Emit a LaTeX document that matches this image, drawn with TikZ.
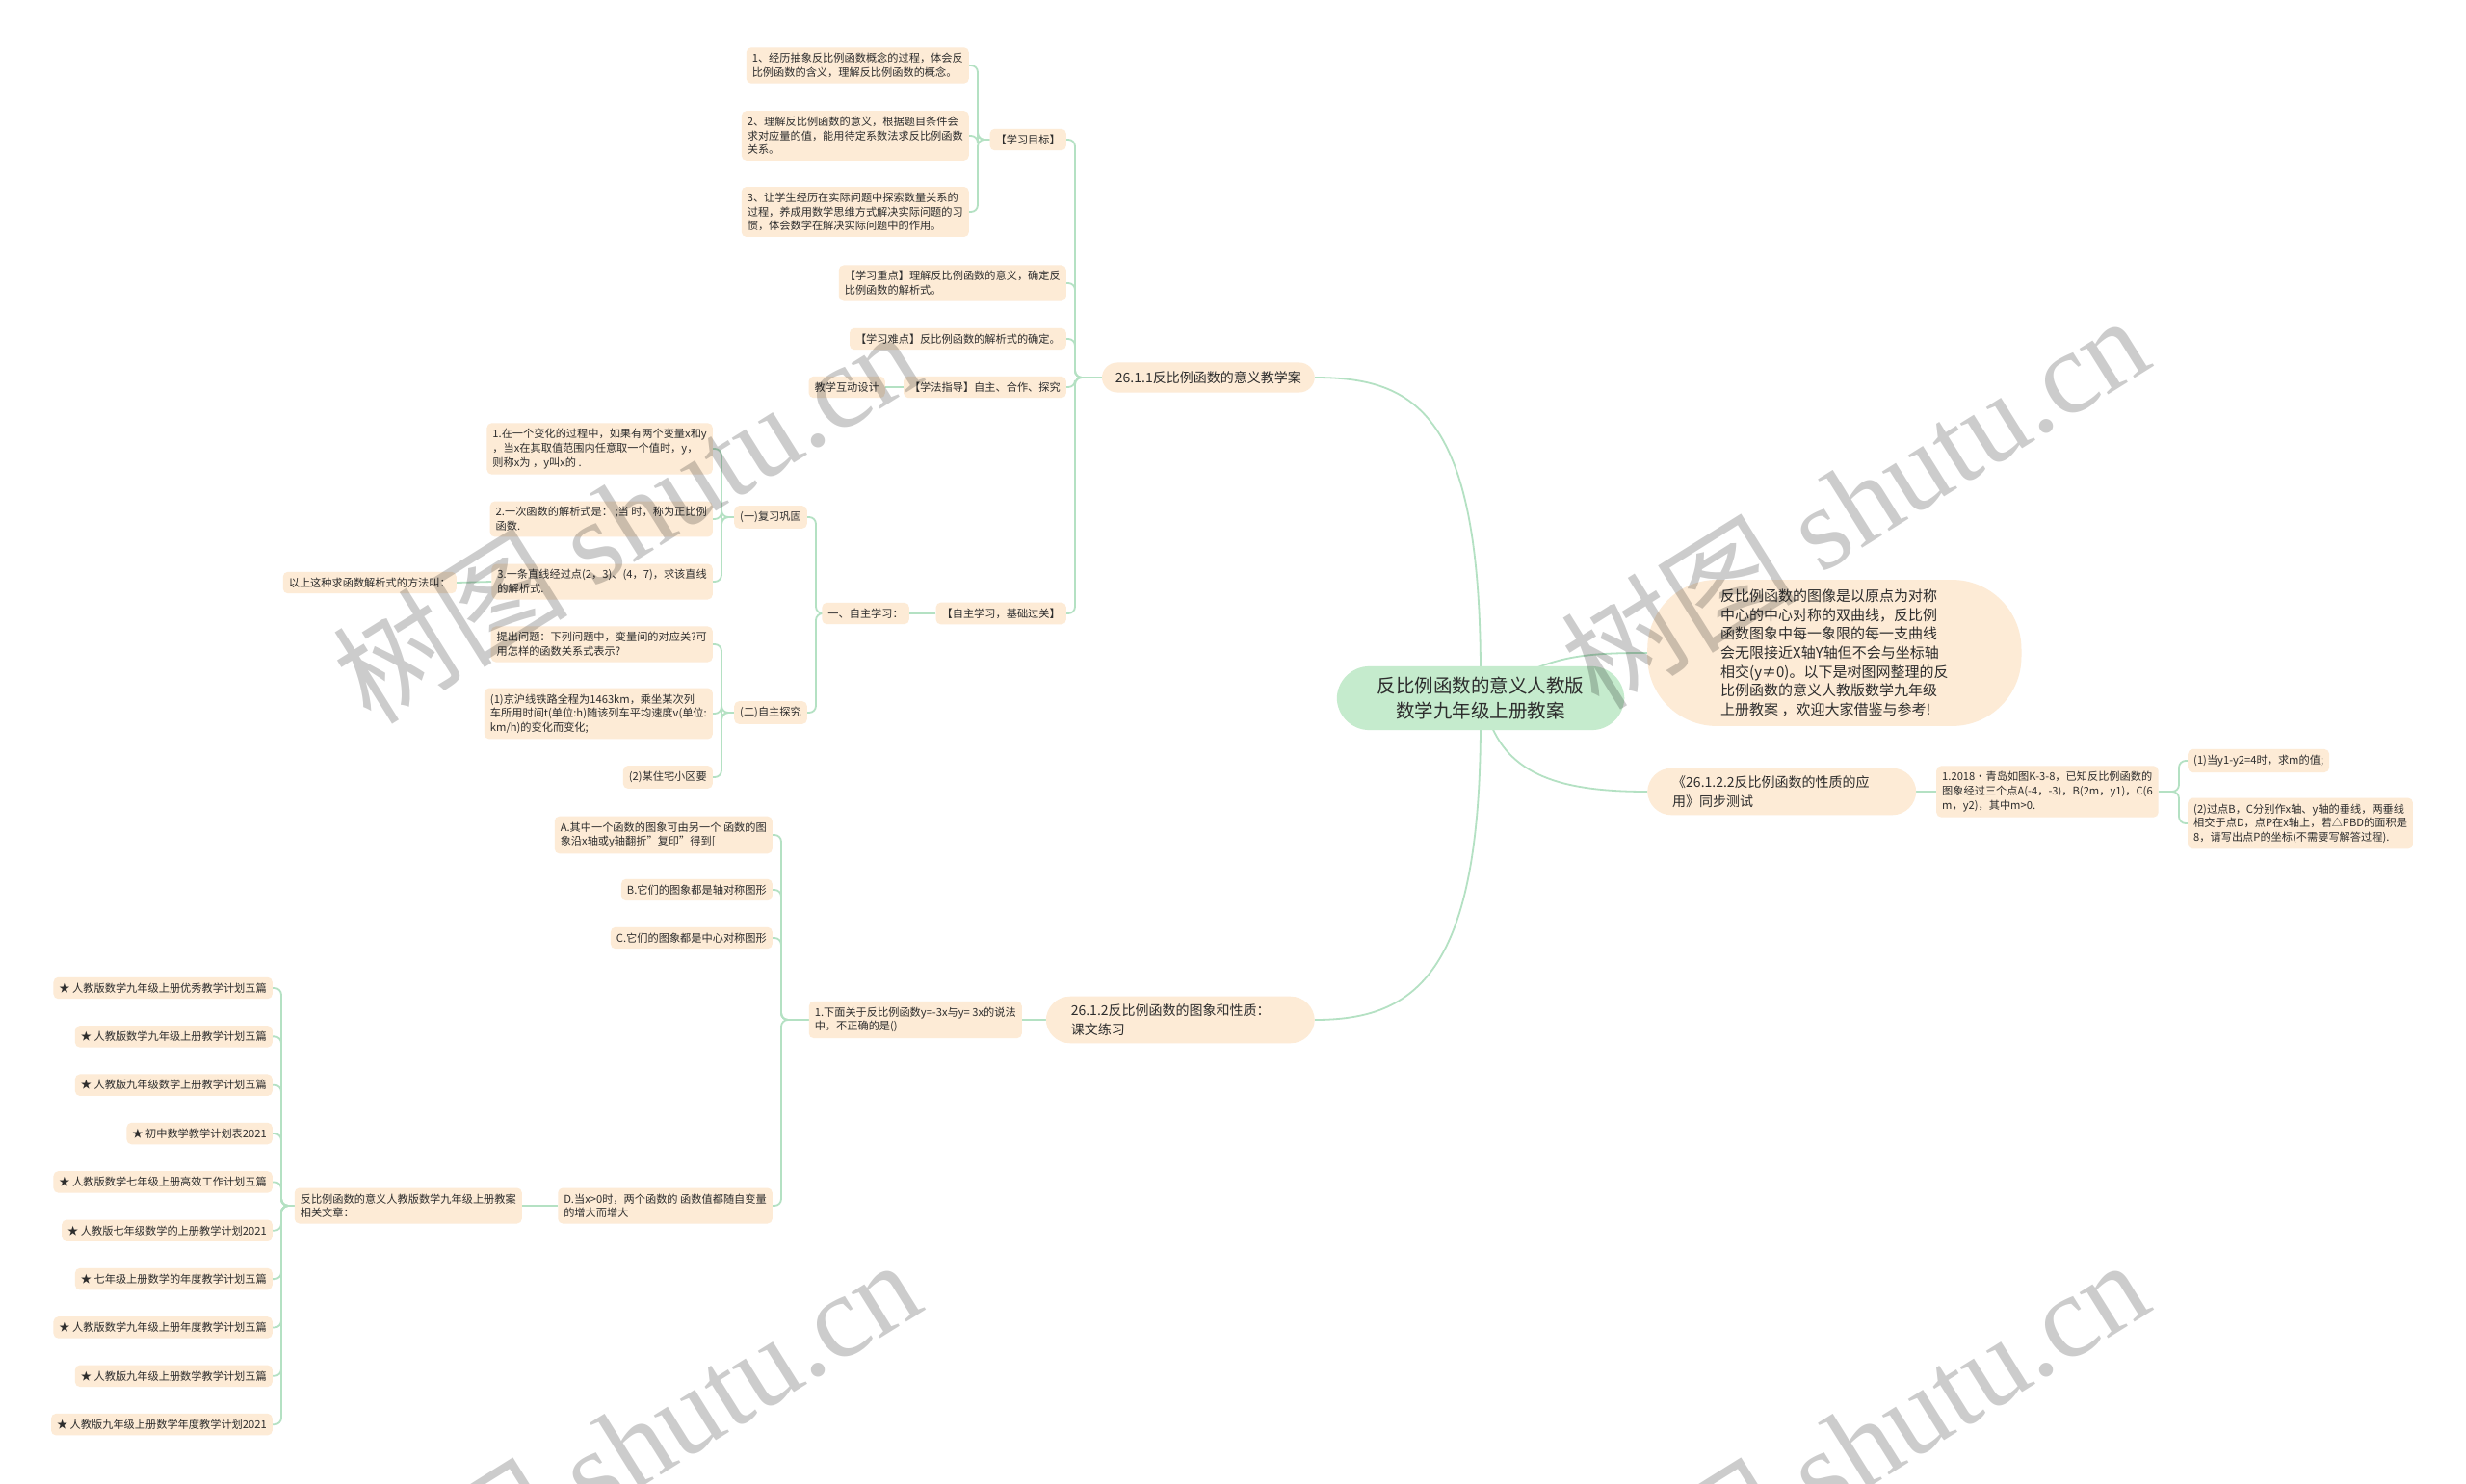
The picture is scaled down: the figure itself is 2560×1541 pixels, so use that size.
\documentclass[tikz,border=0pt]{standalone}
\usepackage{fontspec}
\setmainfont{Noto Sans CJK SC}
\newfontfamily\wmfont{Liberation Serif}
\usetikzlibrary{calc}
\pgfdeclarelayer{paper}
\pgfdeclarelayer{background}
\pgfdeclarelayer{foreground}
\pgfsetlayers{paper,background,main,foreground}

\definecolor{peach}{RGB}{253,235,214}
\definecolor{mint}{RGB}{197,235,205}
\definecolor{wire}{RGB}{180,225,195}
\definecolor{ink}{RGB}{45,45,45}

\tikzset{
  leaf/.style={fill=peach, text=ink, rounded corners=5pt, inner xsep=6pt, inner ysep=6pt,
    align=left, font=\fontsize{11.2}{14.6}\selectfont},
  topic/.style={fill=peach, text=ink, rounded corners=16pt, inner xsep=14pt, inner ysep=9pt,
    align=left, font=\fontsize{14}{19.6}\selectfont},
  widetopic/.style={topic, rounded corners=25pt, text width=227pt, inner xsep=26pt, inner ysep=8pt},
  rootnode/.style={fill=mint, text=ink, rounded corners=34pt, inner xsep=42pt, inner ysep=11pt,
    align=center, font=\fontsize{19.5}{26}\selectfont},
  intronode/.style={fill=peach, text=ink, rounded corners=72pt, inner xsep=76pt, inner ysep=10pt,
    align=left, font=\fontsize{15}{19.6}\selectfont},
  link/.style={draw=wire, line width=1.8pt, rounded corners=7pt},
  wmark/.style={text=black, opacity=0.2, rotate=32, font=\fontsize{122}{122}\selectfont},
}

\begin{document}
\begin{tikzpicture}[x=1pt, y=-1pt]
\begin{pgfonlayer}{paper}
  \fill[white] (0,0) rectangle (2560,1541);
\end{pgfonlayer}
\useasboundingbox (0,0) rectangle (2560,1541);

% centre
\node[rootnode] (root) at (1537,725) {反比例函数的意义人教版\\数学九年级上册教案};

% first level
\node[topic, anchor=east] (lesson) at (1365,392) {26.1.1反比例函数的意义教学案};
\node[intronode, anchor=west] (intro) at (1710,678) {反比例函数的图像是以原点为对称\\中心的中心对称的双曲线，反比例\\函数图象中每一象限的每一支曲线\\会无限接近X轴Y轴但不会与坐标轴\\相交(y≠0)。以下是树图网整理的反\\比例函数的意义人教版数学九年级\\上册教案 ，欢迎大家借鉴与参考!};
\node[widetopic, anchor=west] (apply) at (1710,822) {《26.1.2.2反比例函数的性质的应\\用》同步测试};
\node[widetopic, anchor=east] (graph) at (1365,1059) {26.1.2反比例函数的图象和性质：\\课文练习};

% 26.1.1 branch
\node[leaf, anchor=east] (goal) at (1107,145) {【学习目标】};
\node[leaf, anchor=east] (key) at (1107,294) {【学习重点】理解反比例函数的意义，确定反\\比例函数的解析式。};
\node[leaf, anchor=east] (hard) at (1107,352) {【学习难点】反比例函数的解析式的确定。};
\node[leaf, anchor=east] (method) at (1107,402) {【学法指导】自主、合作、探究};
\node[leaf, anchor=east] (self) at (1107,637) {【自主学习，基础过关】};

\node[leaf, anchor=east] (g1) at (1006,68) {1、经历抽象反比例函数概念的过程，体会反\\比例函数的含义，理解反比例函数的概念。};
\node[leaf, anchor=east] (g2) at (1006,141) {2、理解反比例函数的意义，根据题目条件会\\求对应量的值，能用待定系数法求反比例函数\\关系。};
\node[leaf, anchor=east] (g3) at (1006,220) {3、让学生经历在实际问题中探索数量关系的\\过程，养成用数学思维方式解决实际问题的习\\惯，体会数学在解决实际问题中的作用。};

\node[leaf, anchor=east] (design) at (919,402) {教学互动设计};
\node[leaf, anchor=east] (selfa) at (944,637) {一、自主学习：};
\node[leaf, anchor=east] (rev) at (838,537) {(一)复习巩固};
\node[leaf, anchor=east] (exp) at (838,740) {(二)自主探究};

\node[leaf, anchor=east] (r1) at (740,466) {1.在一个变化的过程中，如果有两个变量x和y\\，当x在其取值范围内任意取一个值时，y，\\则称x为 ，y叫x的 .};
\node[leaf, anchor=east] (r2) at (740,539) {2.一次函数的解析式是： ;当 时，称为正比例\\函数.};
\node[leaf, anchor=east] (r3) at (740,604) {3.一条直线经过点(2，3)、(4，7)，求该直线\\的解析式.};
\node[leaf, anchor=east] (way) at (474,605) {以上这种求函数解析式的方法叫：};

\node[leaf, anchor=east] (e0) at (740,669) {提出问题：下列问题中，变量间的对应关?可\\用怎样的函数关系式表示?};
\node[leaf, anchor=east] (e1) at (740,741) {(1)京沪线铁路全程为1463km，乘坐某次列\\车所用时间t(单位:h)随该列车平均速度v(单位:\\km/h)的变化而变化;};
\node[leaf, anchor=east] (e2) at (740,807) {(2)某住宅小区要};

% 26.1.2.2 branch
\node[leaf, anchor=west] (q1) at (2010,822) {1.2018·青岛如图K-3-8，已知反比例函数的\\图象经过三个点A(-4，-3)，B(2m，y1)，C(6\\m，y2)，其中m>0.};
\node[leaf, anchor=west] (q1a) at (2271,790) {(1)当y1-y2=4时，求m的值;};
\node[leaf, anchor=west] (q1b) at (2271,855) {(2)过点B，C分别作x轴、y轴的垂线，两垂线\\相交于点D，点P在x轴上，若△PBD的面积是\\8，请写出点P的坐标(不需要写解答过程).};

% 26.1.2 branch
\node[leaf, anchor=east] (p1) at (1061,1059) {1.下面关于反比例函数y=-3x与y= 3x的说法\\中，不正确的是()};
\node[leaf, anchor=east] (pa) at (802,867) {A.其中一个函数的图象可由另一个 函数的图\\象沿x轴或y轴翻折"复印"得到[};
\node[leaf, anchor=east] (pb) at (802,924) {B.它们的图象都是轴对称图形};
\node[leaf, anchor=east] (pc) at (802,974) {C.它们的图象都是中心对称图形};
\node[leaf, anchor=east] (pd) at (802,1252) {D.当x>0时，两个函数的 函数值都随自变量\\的增大而增大};
\node[leaf, anchor=east] (rel) at (542,1252) {反比例函数的意义人教版数学九年级上册教案\\ 相关文章：};

\foreach \t [count=\i] in {人教版数学九年级上册优秀教学计划五篇, 人教版数学九年级上册教学计划五篇,
  人教版九年级数学上册教学计划五篇, 初中数学教学计划表2021, 人教版数学七年级上册高效工作计划五篇,
  人教版七年级数学的上册教学计划2021, 七年级上册数学的年度教学计划五篇, 人教版数学九年级上册年度教学计划五篇,
  人教版九年级上册数学教学计划五篇, 人教版九年级上册数学年度教学计划2021}
  \node[leaf, anchor=east] (star\i) at (283,{1026+50.35*(\i-1)}) {★ \t};

\begin{pgfonlayer}{background}
  % curves out of the centre
  \draw[link] (1537,700) .. controls (1537,430) and (1470,392) .. (lesson.east);
  \draw[link] (1560,712) .. controls (1610,680) and (1650,678) .. (intro.west);
  \draw[link] (1545,745) .. controls (1565,805) and (1620,822) .. (apply.west);
  \draw[link] (1537,750) .. controls (1537,1010) and (1470,1059) .. (graph.east);

  \foreach \c in {goal,key,hard,method,self}
    \draw[link] (lesson.west) -| ([xshift=9pt]\c.east) -- (\c.east);
  \foreach \c in {g1,g2,g3}
    \draw[link] (goal.west) -| ([xshift=9pt]\c.east) -- (\c.east);
  \draw[link] (method.west) -- (design.east);
  \draw[link] (self.west) -- (selfa.east);
  \foreach \c in {rev,exp}
    \draw[link] (selfa.west) -| ([xshift=9pt]\c.east) -- (\c.east);
  \foreach \c in {r1,r2,r3}
    \draw[link] (rev.west) -| ([xshift=9pt]\c.east) -- (\c.east);
  \draw[link] (r3.west) -- (way.east);
  \foreach \c in {e0,e1,e2}
    \draw[link] (exp.west) -| ([xshift=9pt]\c.east) -- (\c.east);

  \draw[link] (apply.east) -- (q1.west);
  \foreach \c in {q1a,q1b}
    \draw[link] (q1.east) -| ([xshift=-9pt]\c.west) -- (\c.west);

  \draw[link] (graph.west) -- (p1.east);
  \foreach \c in {pa,pb,pc,pd}
    \draw[link] (p1.west) -| ([xshift=9pt]\c.east) -- (\c.east);
  \draw[link] (pd.west) -- (rel.east);
  \foreach \i in {1,...,10}
    \draw[link] (rel.west) -| ([xshift=9pt]star\i.east) -- (star\i.east);
\end{pgfonlayer}

% watermarks
\begin{pgfonlayer}{foreground}
  \node[wmark] (wm1) at (650,535) {树图 {\wmfont shutu.cn}};
  \node[wmark] (wm2) at (1925,520) {树图 {\wmfont shutu.cn}};
  \node[wmark] (wm3) at (650,1500) {树图 {\wmfont shutu.cn}};
  \node[wmark] (wm4) at (1925,1500) {树图 {\wmfont shutu.cn}};
\end{pgfonlayer}
\end{tikzpicture}
\end{document}
